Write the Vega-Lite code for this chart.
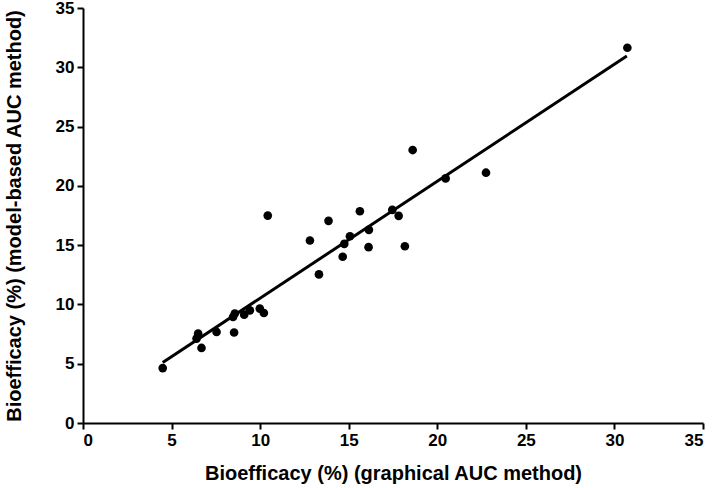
{
  "$schema": "https://vega.github.io/schema/vega-lite/v6.json",
  "width": 620,
  "height": 415,
  "autosize": "none",
  "padding": {"left": 83, "top": 8, "right": 11, "bottom": 65},
  "background": "white",
  "config": {
    "view": {"stroke": null},
    "axis": {
      "grid": false,
      "domainColor": "black",
      "domainWidth": 2,
      "tickColor": "black",
      "tickWidth": 2,
      "tickSize": 6,
      "labelFont": "Liberation Sans",
      "labelFontWeight": "bold",
      "labelFontSize": 17,
      "labelColor": "black",
      "titleFont": "Liberation Sans",
      "titleFontWeight": "bold",
      "titleFontSize": 20,
      "titleColor": "black"
    }
  },
  "datasets": {
    "pts": [
      {"g": 4.50, "m": 4.63},
      {"g": 6.50, "m": 7.54},
      {"g": 6.41, "m": 7.12},
      {"g": 6.69, "m": 6.33},
      {"g": 7.54, "m": 7.68},
      {"g": 8.53, "m": 7.63},
      {"g": 8.47, "m": 8.94},
      {"g": 8.57, "m": 9.23},
      {"g": 9.10, "m": 9.14},
      {"g": 9.42, "m": 9.50},
      {"g": 9.98, "m": 9.65},
      {"g": 10.21, "m": 9.28},
      {"g": 10.43, "m": 17.49},
      {"g": 12.81, "m": 15.39},
      {"g": 13.32, "m": 12.53},
      {"g": 13.86, "m": 17.05},
      {"g": 14.66, "m": 14.02},
      {"g": 14.75, "m": 15.11},
      {"g": 15.07, "m": 15.75},
      {"g": 15.63, "m": 17.86},
      {"g": 16.12, "m": 14.83},
      {"g": 16.14, "m": 16.29},
      {"g": 17.46, "m": 17.97},
      {"g": 17.82, "m": 17.47},
      {"g": 18.17, "m": 14.91},
      {"g": 18.61, "m": 23.02},
      {"g": 20.47, "m": 20.63},
      {"g": 22.75, "m": 21.11},
      {"g": 30.73, "m": 31.65}
    ],
    "fit": [
      {"g": 4.5, "m": 5.1},
      {"g": 30.7, "m": 30.95}
    ]
  },
  "layer": [
    {
      "data": {"name": "fit"},
      "mark": {"type": "line", "color": "black", "strokeWidth": 3},
      "encoding": {
        "x": {"field": "g", "type": "quantitative"},
        "y": {"field": "m", "type": "quantitative"}
      }
    },
    {
      "data": {"name": "pts"},
      "mark": {"type": "circle", "color": "black", "opacity": 1, "size": 75},
      "encoding": {
        "x": {
          "field": "g", "type": "quantitative",
          "scale": {"domain": [0, 35], "nice": false, "zero": false},
          "axis": {"values": [0, 5, 10, 15, 20, 25, 30, 35], "title": "Bioefficacy (%) (graphical AUC method)", "labelPadding": 3, "titlePadding": 15}
        },
        "y": {
          "field": "m", "type": "quantitative",
          "scale": {"domain": [0, 35], "nice": false, "zero": false},
          "axis": {"values": [0, 5, 10, 15, 20, 25, 30, 35], "title": "Bioefficacy (%) (model-based AUC method)", "labelPadding": 3, "titlePadding": 31}
        }
      }
    }
  ]
}
